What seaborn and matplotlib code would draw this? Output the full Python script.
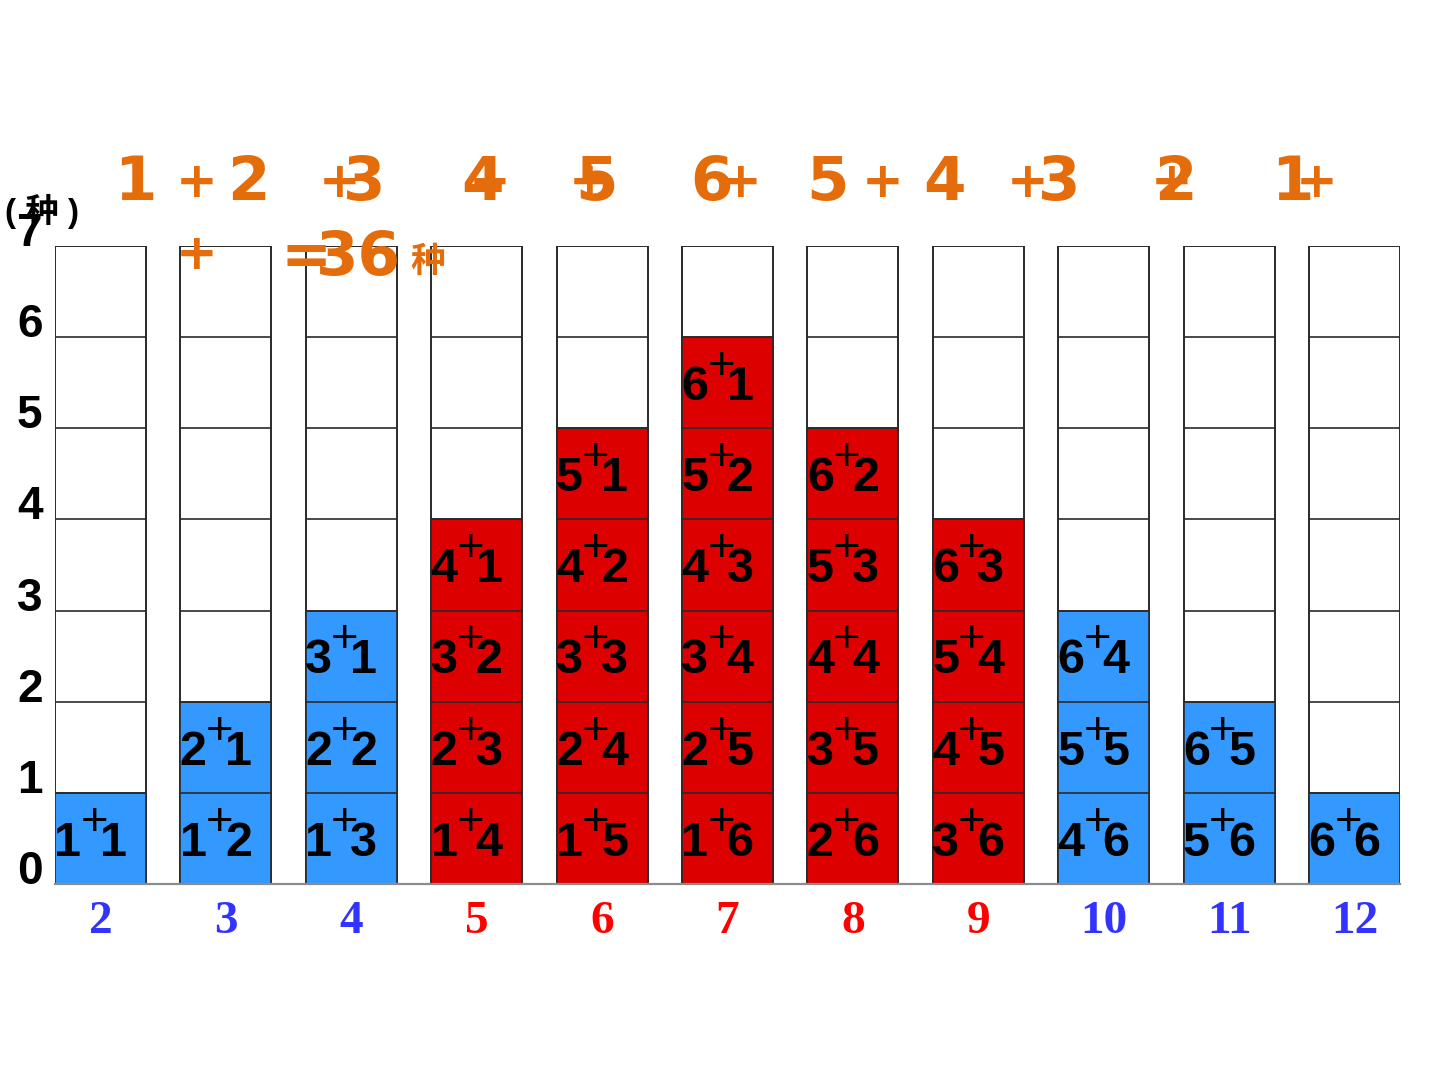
import matplotlib
matplotlib.use("Agg")
import pandas as pd
import matplotlib.pyplot as plt
import seaborn as sns

# dice sums and how many ways each one can come up
sums = ['2', '3', '4', '5', '6', '7', '8', '9', '10', '11', '12']
counts = [1, 2, 3, 4, 5, 6, 5, 4, 3, 2, 1]
groups = ['blue', 'blue', 'blue', 'red', 'red', 'red', 'red', 'red', 'blue', 'blue', 'blue']
cell_pairs = [
    [('1', '1')],
    [('1', '2'), ('2', '1')],
    [('1', '3'), ('2', '2'), ('3', '1')],
    [('1', '4'), ('2', '3'), ('3', '2'), ('4', '1')],
    [('1', '5'), ('2', '4'), ('3', '3'), ('4', '2'), ('5', '1')],
    [('1', '6'), ('2', '5'), ('3', '4'), ('4', '3'), ('5', '2'), ('6', '1')],
    [('2', '6'), ('3', '5'), ('4', '4'), ('5', '3'), ('6', '2')],
    [('3', '6'), ('4', '5'), ('5', '4'), ('6', '3')],
    [('4', '6'), ('5', '5'), ('6', '4')],
    [('5', '6'), ('6', '5')],
    [('6', '6')],
]
max_cells = 7
y_ticks = [0, 1, 2, 3, 4, 5, 6, 7]
title_terms = ['1', '2', '3', '4', '5', '6', '5', '4', '3', '2', '1']
total = '36'
unit = '种'

cell_colors = {'blue': '#3399ff', 'red': '#dd0000'}
label_colors = {'blue': '#3333ff', 'red': '#ff0000'}
orange = '#e46c0a'
edge = '#2a2a2a'
W = 0.726

sns.set_theme(style='white')
plt.rcParams['font.family'] = ['Liberation Sans', 'Noto Sans CJK SC']

fig = plt.figure(figsize=(14.4, 10.8), dpi=100)
ax = fig.add_axes([55 / 1440, 196 / 1080, 1345 / 1440, 638 / 1080])

df = pd.DataFrame({'sum': sums, 'count': counts, 'group': groups, 'full': max_cells})

# empty columns of 7 cells, then the filled part on top
sns.barplot(data=df, x='sum', y='full', color='white', saturation=1,
            edgecolor=edge, linewidth=1.4, width=W, ax=ax)
sns.barplot(data=df, x='sum', y='count', hue='group', palette=cell_colors, saturation=1,
            dodge=False, legend=False, edgecolor=edge, linewidth=1.2, width=W, ax=ax)

for i, pairs in enumerate(cell_pairs):
    ax.hlines(range(1, max_cells), i - W / 2, i + W / 2, color=edge, lw=1.2, zorder=3)
    for k, (a, b) in enumerate(pairs):
        ax.text(i - 0.26, k + 0.31, a, ha='center', va='baseline', fontsize=35,
                fontweight='bold', color='black', zorder=4)
        ax.text(i + 0.10, k + 0.31, b, ha='center', va='baseline', fontsize=35,
                fontweight='bold', color='black', zorder=4)
        ax.text(i - 0.05, k + 0.54, '+', ha='center', va='baseline', fontsize=34,
                color='black', zorder=5)

ax.set_xlim(-W / 2, len(sums) - 1 + W / 2)
ax.set_ylim(0, max_cells)
ax.set_xlabel('')
ax.set_ylabel('')
for s in ['left', 'top', 'right']:
    ax.spines[s].set_visible(False)
ax.spines['bottom'].set_color('#8c8c8c')
ax.spines['bottom'].set_linewidth(1.6)

ax.set_yticks(y_ticks)
ax.set_yticklabels([str(v) for v in y_ticks])
ax.tick_params(axis='y', length=0, pad=9, labelsize=33, labelcolor='black')
for lab in ax.get_yticklabels():
    lab.set_fontweight('bold')
    lab.set_verticalalignment('baseline')

ax.set_xticks(range(len(sums)))
ax.set_xticklabels(sums)
ax.tick_params(axis='x', length=0, pad=12)
for lab, g in zip(ax.get_xticklabels(), groups):
    lab.set_fontfamily('Liberation Serif')
    lab.set_fontweight('bold')
    lab.set_fontsize(34)
    lab.set_color(label_colors[g])

# unit label at the top of the y axis
fig.text(42 / 1440, 1 - 211 / 1080, '( 种 )', ha='center', va='center', fontsize=24,
         fontweight='bold', color='black')

# the orange sum written above the chart, in its scattered slide layout
title_font = dict(color=orange, fontsize=44, fontweight='bold', family=['DejaVu Sans', 'Noto Sans CJK SC'],
                  ha='center', va='baseline')
plus_font = dict(title_font, fontsize=36)
term_x = [135, 248, 364, 483, 596, 712, 828, 945, 1059, 1175, 1292]
plus_x = [197, 340, 490, 590, 741, 883, 1028, 1172, 1317]
for t, x in zip(title_terms, term_x):
    fig.text(x / 1440, 1 - 200 / 1080, t, **title_font)
for x in plus_x:
    fig.text(x / 1440, 1 - 197 / 1080, '+', **plus_font)
fig.text(197 / 1440, 1 - 269 / 1080, '+', **plus_font)
fig.text(306 / 1440, 1 - 275 / 1080, '=', **title_font)
fig.text(358 / 1440, 1 - 275 / 1080, total, **title_font)
fig.text(428 / 1440, 1 - 272 / 1080, unit, color=orange, fontsize=25, fontweight='bold',
         family=['Noto Sans CJK SC'], ha='center', va='baseline')

fig.savefig('out.png', dpi=100)
